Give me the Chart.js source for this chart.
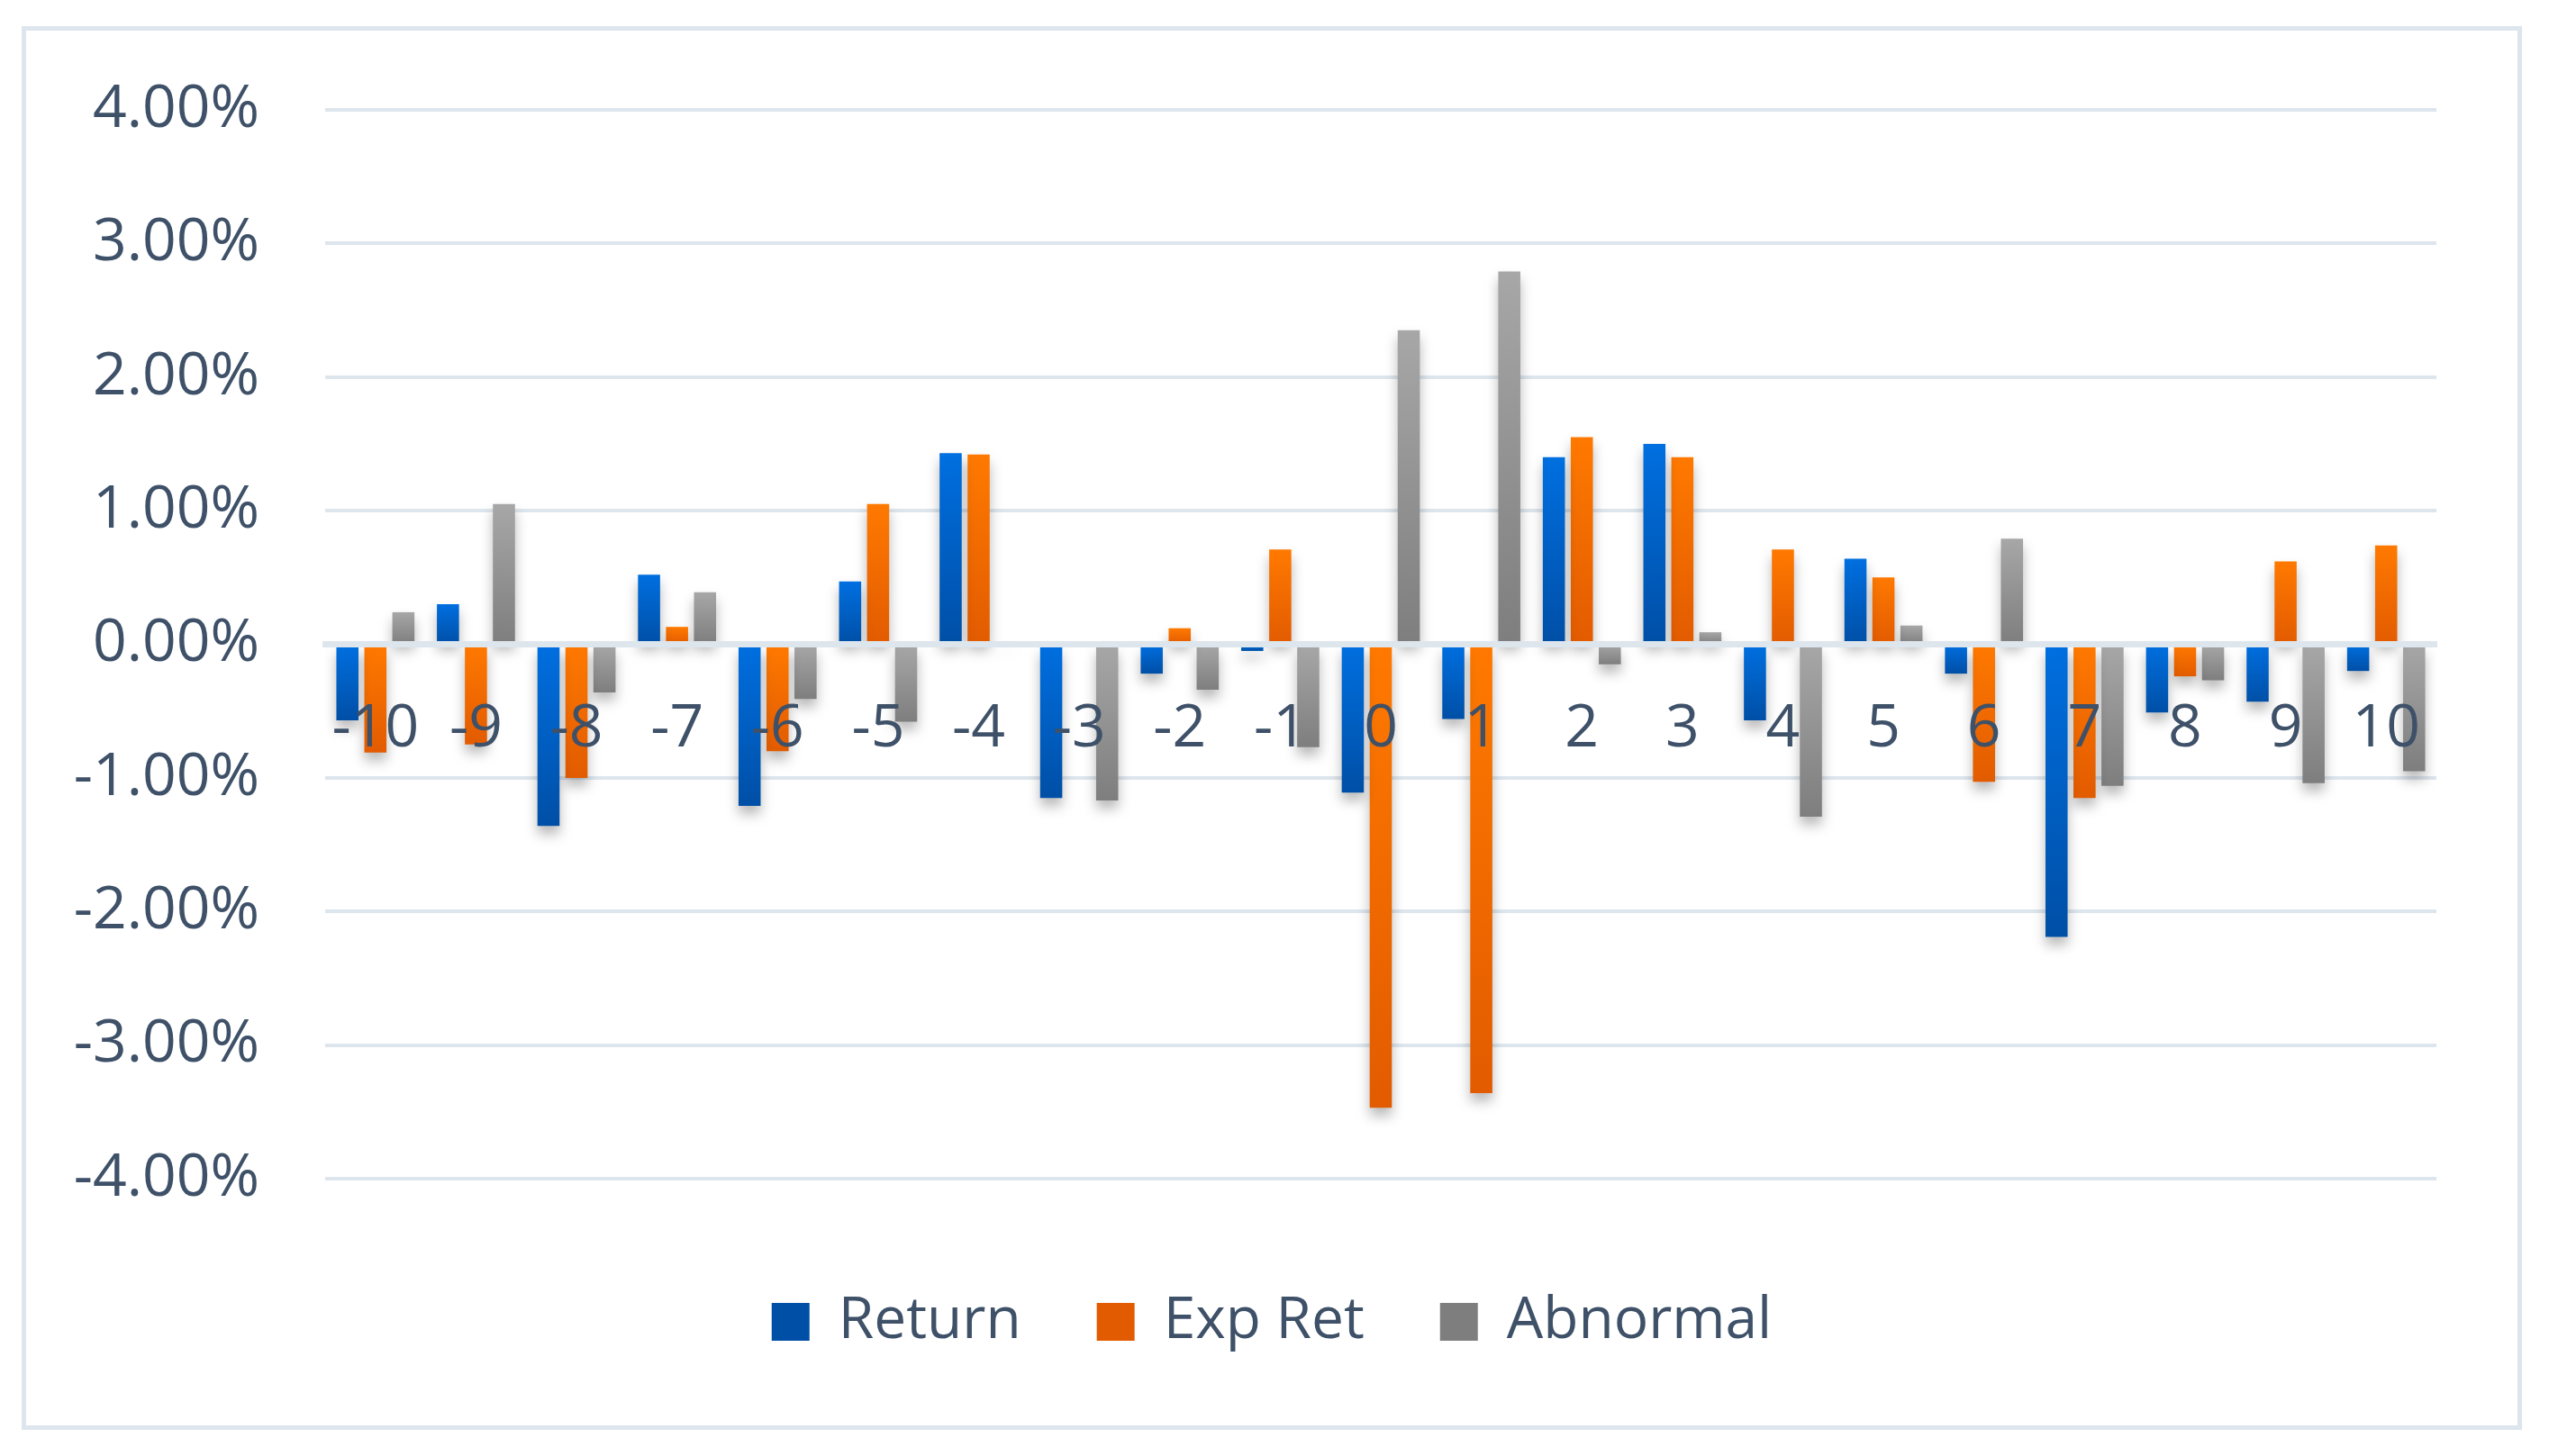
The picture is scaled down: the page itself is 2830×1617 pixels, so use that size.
<!DOCTYPE html>
<html>
<head>
<meta charset="utf-8">
<title>Return / Exp Ret / Abnormal</title>
<script src="https://cdn.jsdelivr.net/npm/chart.js@4.4.1/dist/chart.umd.min.js"></script>
<style>
  html, body { margin: 0; padding: 0; background: #fff; }
  #frame {
    position: absolute;
    left: 24px;
    top: 29px;
    width: 2766px;
    height: 1549px;
    border: 5px solid #dde5ed;
  }
</style>
</head>
<body>
<div id="frame"><canvas id="eventChart"></canvas></div>
<script>
const days = ["-10", "-9", "-8", "-7", "-6", "-5", "-4", "-3", "-2", "-1", "0",
  "1", "2", "3", "4", "5", "6", "7", "8", "9", "10"];

// daily values, in percent
const returnPct = [-0.57, 0.30, -1.36, 0.52, -1.21, 0.47, 1.43, -1.15, -0.22, -0.05, -1.11,
  -0.56, 1.40, 1.50, -0.57, 0.64, -0.22, -2.19, -0.51, -0.43, -0.20];
const expRetPct = [-0.81, -0.75, -1.00, 0.13, -0.80, 1.05, 1.42, 0.00, 0.12, 0.71, -3.47,
  -3.36, 1.55, 1.40, 0.71, 0.50, -1.03, -1.15, -0.24, 0.62, 0.74];
const abnormalPct = [0.24, 1.05, -0.36, 0.39, -0.41, -0.58, 0.01, -1.17, -0.34, -0.77, 2.35,
  2.79, -0.15, 0.09, -1.29, 0.14, 0.79, -1.06, -0.27, -1.04, -0.95];

const yMin = -4;
const yMax = 4;
const yStep = 1;

const textColor = "#3e5168";
const gridColor = "#dde5ed";
Chart.defaults.font.family = "'Open Sans', sans-serif";

// each bar gets its own light-to-dark fill, top to bottom
function barFill(light, mid, dark) {
  return (c) => {
    const chart = c.chart;
    if (c.type !== "data" || !chart.chartArea) return mid;
    const y = chart.scales.y;
    const y0 = y.getPixelForValue(0);
    const y1 = y.getPixelForValue(c.raw);
    const top = Math.min(y0, y1);
    const bottom = Math.max(y0, y1);
    if (bottom - top < 1) return mid;
    const g = chart.ctx.createLinearGradient(0, top, 0, bottom);
    g.addColorStop(0, light);
    g.addColorStop(1, dark);
    return g;
  };
}

const barShadow = {
  id: "barShadow",
  beforeDatasetsDraw(chart) {
    const ctx = chart.ctx;
    ctx.save();
    ctx.shadowColor = "rgba(0,0,0,0.28)";
    ctx.shadowBlur = 14;
    ctx.shadowOffsetY = 9;
  },
  afterDatasetsDraw(chart) {
    chart.ctx.restore();
  },
};

// empty axes that only reserve room (below the plot, right of it)
const spacer = (size) => ({
  grid: { display: false, drawTicks: false },
  border: { display: false },
  ticks: { display: false },
  afterFit(scale) {
    if (scale.isHorizontal()) scale.height = size;
    else scale.width = size;
  },
});

const ctx = document.getElementById("eventChart").getContext("2d");

new Chart(ctx, {
  type: "bar",
  data: {
    labels: days,
    datasets: [
      { label: "Return", data: returnPct, xAxisID: "x", yAxisID: "y",
        backgroundColor: barFill("#006fe0", "#0062c8", "#004fa6") },
      { label: "Exp Ret", data: expRetPct, xAxisID: "x", yAxisID: "y",
        backgroundColor: barFill("#ff7900", "#f86c00", "#e25b00") },
      { label: "Abnormal", data: abnormalPct, xAxisID: "x", yAxisID: "y",
        backgroundColor: barFill("#a7a7a7", "#959595", "#7e7e7e") },
    ],
  },
  options: {
    responsive: true,
    maintainAspectRatio: false,
    animation: false,
    datasets: {
      bar: { categoryPercentage: 0.835, barPercentage: 0.79 },
    },
    layout: { padding: { left: 0, right: 0, top: 88, bottom: 73 } },
    scales: {
      y: {
        min: yMin,
        max: yMax,
        grid: { color: gridColor, lineWidth: 4, drawTicks: false },
        border: { display: false },
        ticks: {
          stepSize: yStep,
          color: textColor,
          font: { size: 66 },
          padding: 73,
          callback: (v) => v.toFixed(2) + "%",
        },
        afterFit(scale) {
          scale.width = 332;
          // tick padding would otherwise push the plot down
          scale.paddingTop = 40;
          scale.paddingBottom = 40;
        },
      },
      x: {
        position: { y: 0 },
        grid: { display: false, drawTicks: false },
        border: { display: true, color: gridColor, width: 7, z: 1 },
        ticks: {
          z: 1,
          color: textColor,
          font: { size: 66 },
          padding: 55,
          maxRotation: 0,
          autoSkip: false,
        },
      },
      xSpace: { type: "category", position: "bottom", ...spacer(107) },
      ySpace: { type: "linear", position: "right", ...spacer(90) },
    },
    plugins: {
      tooltip: { enabled: false },
      legend: {
        position: "bottom",
        labels: {
          color: textColor,
          font: { size: 64 },
          boxWidth: 42,
          boxHeight: 42,
          padding: 20,
          generateLabels(chart) {
            const items = Chart.defaults.plugins.legend.labels.generateLabels(chart);
            items.forEach((it, i) => {
              it.lineWidth = 0;
              if (i < items.length - 1) it.text += "\u2003";
            });
            return items;
          },
        },
      },
    },
  },
  plugins: [barShadow],
});
</script>
</body>
</html>
